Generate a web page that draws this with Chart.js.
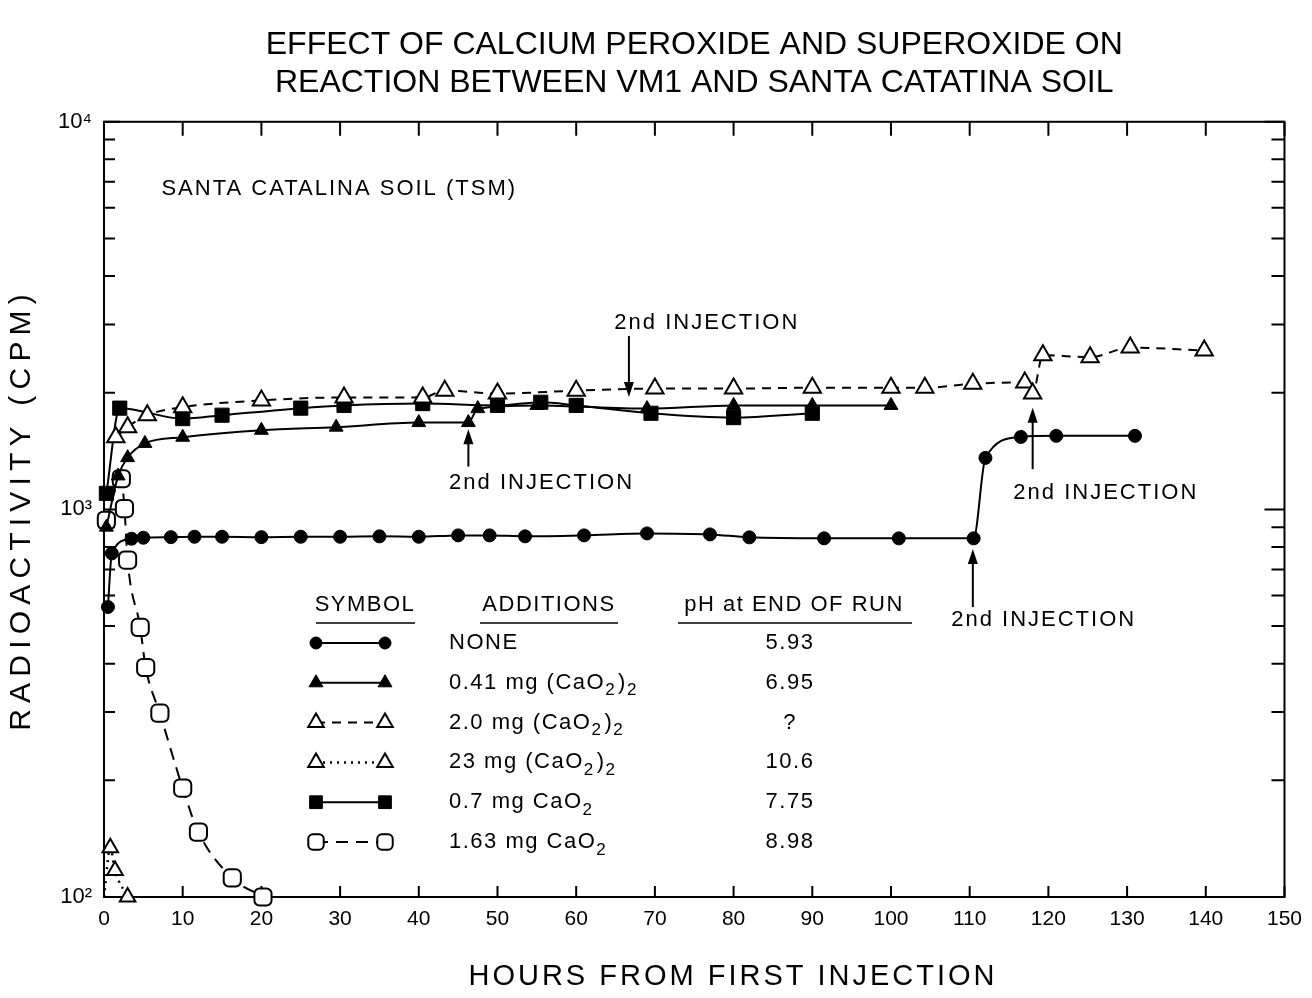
<!DOCTYPE html>
<html>
<head>
<meta charset="utf-8">
<script src="https://cdn.jsdelivr.net/npm/chart.js@4.4.1/dist/chart.umd.min.js"></script>
<style>
  html, body { margin: 0; padding: 0; background: #fff; }
  #wrap { width: 1312px; height: 998px; }
</style>
</head>
<body>
<div id="wrap"><canvas id="chart" width="1312" height="998"></canvas></div>
<script>
// values (hours after first injection, counts per minute)
const noneHours = [0.5, 1, 3.5, 5, 8.5, 11.5, 15, 20, 25, 30, 35, 40, 45, 49, 53.5, 61, 69, 77, 82, 91.5, 101, 110.5, 112, 116.5, 121, 131];
const noneCpm   = [560, 770, 840, 845, 848, 850, 850, 848, 850, 850, 852, 850, 857, 857, 852, 857, 867, 862, 847, 842, 842, 842, 1358, 1538, 1548, 1548];

const superLowHours = [0.3, 1.8, 3, 5.2, 10, 20, 29.5, 40, 46.3, 47.5, 55, 69, 80, 90, 100];
const superLowCpm   = [900, 1220, 1360, 1480, 1535, 1600, 1630, 1675, 1675, 1820, 1855, 1820, 1855, 1855, 1855];

const superMidHours = [1.5, 3, 5.5, 10, 20, 30.5, 40.5, 43.3, 50, 60, 70, 80, 90, 100, 104.3, 110.4, 117, 118, 119.3, 125.3, 130.4, 139.8];
const superMidCpm   = [1535, 1630, 1750, 1835, 1910, 1945, 1945, 2025, 1990, 2025, 2050, 2050, 2060, 2060, 2060, 2110, 2125, 1990, 2500, 2470, 2615, 2570];

const superHighHours = [0, 0.8, 1.4, 3];
const superHighCpm   = [100, 134, 117, 100];

const peroxLowHours = [0.3, 2, 10, 15, 25, 30.5, 40.5, 50, 55.5, 60, 69.5, 80, 90];
const peroxLowCpm   = [1100, 1825, 1715, 1750, 1825, 1855, 1875, 1855, 1890, 1855, 1770, 1725, 1770];

const peroxHighHours = [0.3, 2.2, 2.6, 3, 4.6, 5.3, 7.1, 10, 12, 16.3, 20.2];
const peroxHighCpm   = [937, 1200, 1005, 740, 496, 391, 298, 191, 147, 112, 100];

// axis ticks
const xTickHours = [0, 10, 20, 30, 40, 50, 60, 70, 80, 90, 100, 110, 120, 130, 140, 150];
const yTickValues = [100, 200, 300, 400, 500, 600, 700, 800, 900, 1000, 2000, 3000, 4000, 5000, 6000, 7000, 8000, 9000, 10000];
const yDecadeLabels = { 100: '10\u00b2', 1000: '10\u00b3', 10000: '10\u2074' };

// legend table text
const additionLabels = [
  ['NONE'],
  ['0.41 mg (CaO', '_2', ')', '_2'],
  ['2.0 mg (CaO', '_2', ')', '_2'],
  ['23 mg (CaO', '_2', ')', '_2'],
  ['0.7 mg CaO', '_2'],
  ['1.63 mg CaO', '_2']
];
const phValues = ['5.93', '6.95', '?', '10.6', '7.75', '8.98'];

// arrows for the second injection: [hour, tail cpm, tip cpm, label hour, label cpm]
const injectionNotes = [
  [46.3, 1290, 1610, 55.6, 1167],
  [66.7, 2800, 1950, 76.6, 3020],
  [118, 1270, 1830, 127.3, 1106],
  [110.4, 560, 790, 119.4, 518]
];

const FONT = "'Liberation Sans', Arial, sans-serif";

function toPoints(hours, cpm) {
  return hours.map((h, i) => ({ x: h, y: cpm[i] }));
}

const datasets = [
  {
    data: toPoints(noneHours, noneCpm),
    borderColor: '#000', backgroundColor: '#000', borderWidth: 2,
    pointStyle: 'circle', pointRadius: 6.5, pointBorderWidth: 1
  },
  {
    data: toPoints(superLowHours, superLowCpm),
    borderColor: '#000', backgroundColor: '#000', borderWidth: 2,
    pointStyle: 'triangle', pointRadius: 8, pointBorderWidth: 1
  },
  {
    data: toPoints(superMidHours, superMidCpm),
    borderColor: '#000', backgroundColor: '#fff', borderWidth: 2, borderDash: [9, 7],
    pointStyle: 'triangle', pointRadius: 10, pointBorderWidth: 2
  },
  {
    data: toPoints(superHighHours, superHighCpm),
    borderColor: '#000', backgroundColor: '#fff', borderWidth: 2.5, borderDash: [2, 5],
    pointStyle: 'triangle', pointRadius: ctx => ctx.dataIndex === 0 ? 0 : 9, pointBorderWidth: 2
  },
  {
    data: toPoints(peroxLowHours, peroxLowCpm),
    borderColor: '#000', backgroundColor: '#000', borderWidth: 2,
    pointStyle: 'rect', pointRadius: 10, pointBorderWidth: 1
  },
  {
    data: toPoints(peroxHighHours, peroxHighCpm),
    borderColor: '#000', backgroundColor: '#fff', borderWidth: 2, borderDash: [12, 8],
    pointStyle: 'rectRounded', pointRadius: 10, pointBorderWidth: 2
  }
];

datasets.forEach(ds => {
  ds.fill = false;
  ds.cubicInterpolationMode = 'monotone';
  ds.clip = 12;
  ds.pointBackgroundColor = ds.backgroundColor;
  ds.pointBorderColor = '#000';
});

function drawRich(ctx, parts, x, y, size) {
  parts.forEach(p => {
    const sub = p.startsWith('_');
    const t = sub ? p.slice(1) : p;
    ctx.font = (sub ? Math.round(size * 0.75) : size) + 'px ' + FONT;
    ctx.fillText(t, x, sub ? y + 8 : y);
    x += ctx.measureText(t).width + (sub ? 2 : 0);
  });
}

function drawArrow(ctx, x, y1, y2) {
  const dir = y2 > y1 ? 1 : -1;
  ctx.beginPath();
  ctx.moveTo(x, y1);
  ctx.lineTo(x, y2 - dir * 10);
  ctx.stroke();
  ctx.beginPath();
  ctx.moveTo(x, y2);
  ctx.lineTo(x - 5, y2 - dir * 15);
  ctx.lineTo(x + 5, y2 - dir * 15);
  ctx.closePath();
  ctx.fill();
}

const paperPlugin = {
  id: 'paper',
  beforeDatasetsDraw(chart) {
    const { ctx, chartArea: a, scales: { x, y } } = chart;
    ctx.save();
    ctx.strokeStyle = '#000';
    ctx.lineWidth = 2;
    ctx.strokeRect(a.left, a.top, a.right - a.left, a.bottom - a.top);
    ctx.beginPath();
    xTickHours.forEach(h => {
      const px = x.getPixelForValue(h);
      ctx.moveTo(px, a.bottom); ctx.lineTo(px, a.bottom - 11);
      ctx.moveTo(px, a.top); ctx.lineTo(px, a.top + 14);
    });
    yTickValues.forEach(v => {
      const py = y.getPixelForValue(v);
      const major = yDecadeLabels[v] !== undefined;
      ctx.moveTo(a.left, py); ctx.lineTo(a.left + (major ? 16 : 11), py);
      ctx.moveTo(a.right, py); ctx.lineTo(a.right - (major ? 20 : 13), py);
    });
    ctx.stroke();
    ctx.restore();
  },
  afterDraw(chart) {
    const { ctx, chartArea: a, scales: { x, y } } = chart;
    ctx.save();
    ctx.fillStyle = '#000';
    ctx.strokeStyle = '#000';

    // axis titles
    ctx.textAlign = 'center';
    ctx.textBaseline = 'middle';
    ctx.font = '29px ' + FONT;
    ctx.letterSpacing = '3px';
    ctx.fillText('HOURS FROM FIRST INJECTION', 733, 977);
    ctx.save();
    ctx.translate(22, (a.top + a.bottom) / 2);
    ctx.rotate(-Math.PI / 2);
    ctx.font = '30px ' + FONT;
    ctx.letterSpacing = '6.2px';
    ctx.fillText('RADIOACTIVITY (CPM)', 0, 0);
    ctx.restore();

    // soil label
    ctx.letterSpacing = '2px';
    ctx.textAlign = 'left';
    ctx.font = '22px ' + FONT;
    ctx.fillText('SANTA CATALINA SOIL (TSM)', x.getPixelForValue(7.3), y.getPixelForValue(6730));

    // second injection arrows
    ctx.lineWidth = 2;
    injectionNotes.forEach(([h, tail, tip, th, tc]) => {
      const px = x.getPixelForValue(h);
      drawArrow(ctx, px, y.getPixelForValue(tail), y.getPixelForValue(tip));
      ctx.textAlign = 'center';
      ctx.font = '22px ' + FONT;
      ctx.fillText('2nd INJECTION', x.getPixelForValue(th), y.getPixelForValue(tc));
    });

    // legend table
    const symLeft = a.left + 212, symRight = a.left + 281;
    const addLeft = a.left + 345;
    const phCenter = a.left + 686;
    const headY = 605, rowY0 = 643, rowStep = 39.8;
    ctx.letterSpacing = '1.5px';
    ctx.font = '22px ' + FONT;
    ctx.textAlign = 'center';
    ctx.fillText('SYMBOL', a.left + 261, headY);
    ctx.fillText('ADDITIONS', a.left + 445, headY);
    ctx.fillText('pH at END OF RUN', a.left + 690, headY);
    ctx.lineWidth = 1.5;
    ctx.beginPath();
    ctx.moveTo(a.left + 212, 623); ctx.lineTo(a.left + 311, 623);
    ctx.moveTo(a.left + 376, 623); ctx.lineTo(a.left + 514, 623);
    ctx.moveTo(a.left + 574, 623); ctx.lineTo(a.left + 808, 623);
    ctx.stroke();

    datasets.forEach((ds, i) => {
      const ry = rowY0 + i * rowStep;
      ctx.save();
      ctx.lineWidth = ds.borderWidth;
      ctx.setLineDash(ds.borderDash || []);
      ctx.beginPath();
      ctx.moveTo(symLeft, ry); ctx.lineTo(symRight, ry);
      ctx.stroke();
      ctx.setLineDash([]);
      ctx.fillStyle = ds.backgroundColor;
      ctx.lineWidth = ds.pointBorderWidth;
      const r = ds.pointStyle === 'triangle' ? (ds.backgroundColor === '#000' ? 8 : 9) : (ds.pointStyle === 'circle' ? 6 : 9);
      [symLeft, symRight].forEach(px => {
        Chart.helpers.drawPoint(ctx, { pointStyle: ds.pointStyle, radius: r, rotation: 0, borderWidth: ds.pointBorderWidth }, px, ry);
      });
      ctx.restore();
      ctx.textAlign = 'left';
      drawRich(ctx, additionLabels[i], addLeft, ry, 22);
      ctx.textAlign = 'center';
      ctx.font = '22px ' + FONT;
      ctx.fillText(phValues[i], phCenter, ry);
    });
    ctx.restore();
  }
};

new Chart(document.getElementById('chart'), {
  type: 'line',
  data: { datasets },
  options: {
    responsive: false,
    animation: false,
    layout: { padding: { left: 0, right: 25, top: 0, bottom: 0 } },
    plugins: {
      legend: { display: false },
      tooltip: { enabled: false },
      title: {
        display: true,
        fullSize: false,
        text: ['EFFECT OF CALCIUM PEROXIDE AND SUPEROXIDE ON', 'REACTION BETWEEN VM1 AND SANTA CATATINA SOIL'],
        color: '#000',
        font: { family: FONT, size: 32, weight: 'normal', lineHeight: 1.2 },
        padding: { top: 26, bottom: 19 }
      }
    },
    scales: {
      x: {
        type: 'linear',
        min: 0,
        max: 150,
        grid: { display: false, drawTicks: false },
        border: { display: false },
        ticks: { stepSize: 10, padding: 10, autoSkip: false, maxRotation: 0, color: '#000', font: { family: FONT, size: 21 } },
        afterFit(scale) { scale.height = 101; }
      },
      y: {
        type: 'logarithmic',
        min: 100,
        max: 10000,
        grid: { display: false, drawTicks: false },
        border: { display: false },
        afterBuildTicks(scale) { scale.ticks = yTickValues.map(v => ({ value: v })); },
        ticks: { autoSkip: false, padding: 12, color: '#000', font: { family: FONT, size: 22 }, callback: v => yDecadeLabels[v] || '' },
        afterFit(scale) { scale.width = 104; }
      }
    }
  },
  plugins: [paperPlugin]
});
</script>
</body>
</html>
